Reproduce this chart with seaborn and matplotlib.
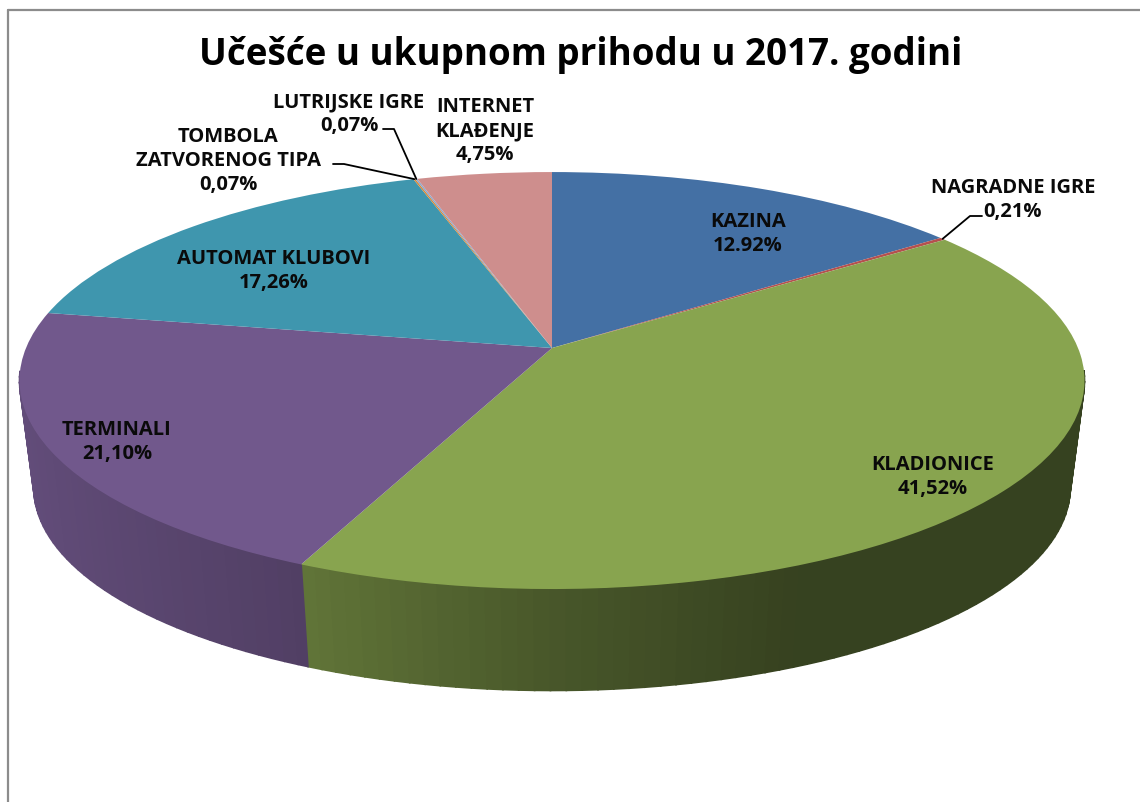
import numpy as np
import matplotlib
matplotlib.use("Agg")
import matplotlib.pyplot as plt
import matplotlib.transforms as mtransforms
import seaborn as sns

# data (the KAZINA slice is drawn bigger than its label says)
slice_values = [14.92, 0.21, 41.52, 21.10, 17.26, 0.07, 0.07, 4.75]
slice_colors = ["#4470A4", "#B5504E", "#88A44F", "#71588C", "#3F96AE", "#D68B3C", "#8FA8CE", "#CE8E8D"]
title = "Učešće u ukupnom prihodu u 2017. godini"
label_texts = [
    "KAZINA\n12.92%",
    "NAGRADNE IGRE\n0,21%",
    "KLADIONICE\n41,52%",
    "TERMINALI\n21,10%",
    "AUTOMAT KLUBOVI\n17,26%",
    "TOMBOLA\nZATVORENOG TIPA\n0,07%",
    "LUTRIJSKE IGRE\n0,07%",
    "INTERNET\nKLAĐENJE\n4,75%",
]

# layout, in pixels of the figure
label_xy = [(748, 234), (1013, 200), (933, 477), (117, 442), (274, 271), (228, 161), (349, 114), (485, 131)]
leader_bends = {1: [(982, 217), (970, 217)], 5: [(333, 165), (344, 165)], 6: [(383, 130), (394, 130)]}


class DiscProjection(mtransforms.Transform):
    """Flat unit disc to picture pixels, with the back of the disc further away."""
    input_dims = 2
    output_dims = 2
    tilt = 0.156

    def __init__(self, cy, scale=1.0):
        super().__init__()
        self.cy = cy
        self.scale = scale

    def transform_non_affine(self, values):
        u, v = values[:, 0], values[:, 1]
        w = 1 + self.tilt * v
        return np.column_stack([552 + 526 * self.scale * u / w, self.cy - 203.4 * self.scale * v / w])


top_disc = DiscProjection(349)
bottom_disc = DiscProjection(457, 0.973)


def wall_shade(u):
    return np.interp(u, [-1, -0.45, 0, 0.4, 1], [0.88, 0.73, 0.53, 0.40, 0.40])


sns.set_theme(style="white")
plt.rcParams["font.family"] = ["Open Sans", "DejaVu Sans"]
palette = sns.color_palette(slice_colors)

fig = plt.figure(figsize=(11.4, 8.03), dpi=100)
ax = fig.add_axes([0, 0, 1, 1])

wedges, _ = ax.pie(slice_values, colors=palette, startangle=90, counterclock=False, radius=1)
ax.set_aspect("auto")
ax.set_xlim(0, 1140)
ax.set_ylim(803, 0)
ax.axis("off")

# side wall of the pie, thin strips from the top rim to the bottom rim
for wedge, color in zip(wedges, palette):
    theta = np.radians(np.arange(wedge.theta1, wedge.theta2 + 1.5, 1.5))
    theta[-1] = np.radians(wedge.theta2)
    for a, b in zip(theta[:-1], theta[1:]):
        # only the front of the rim shows, the rest is behind the top surface
        if np.sin(a) > -0.12 and np.sin(b) > -0.12:
            continue
        rim = np.array([[np.cos(a), np.sin(a)], [np.cos(b), np.sin(b)]])
        upper = top_disc.transform(rim)
        lower = bottom_disc.transform(rim)
        shade = wall_shade(rim[:, 0].mean())
        strip_color = tuple(c * shade for c in color)
        ax.fill([upper[0, 0], upper[1, 0], lower[1, 0], lower[0, 0]],
                [upper[0, 1], upper[1, 1], lower[1, 1], lower[0, 1]],
                facecolor=strip_color, edgecolor=strip_color, lw=1.2, zorder=1)

# top surface: the pie wedges themselves, pushed through the projection
for wedge in wedges:
    wedge.set_transform(top_disc + ax.transData)
    wedge.set_zorder(2)
    wedge.set_linewidth(0)

# chart frame, only top and left are visible
ax.plot([8, 1140], [11, 11], color="#8c8c8c", lw=1.6, zorder=0)
ax.plot([8, 8], [11, 803], color="#8c8c8c", lw=1.6, zorder=0)

ax.text(580.5, 55, title, ha="center", va="center", fontsize=26.5, fontweight="bold", color="black")

for i, (text, (x, y)) in enumerate(zip(label_texts, label_xy)):
    ax.text(x, y, text, ha="center", va="center", fontsize=14.5, fontweight="bold",
            color="#0a0a0a", linespacing=1.26, zorder=4)

# leader lines end on the rim at the middle of their slice
for i, bends in leader_bends.items():
    mid = np.radians((wedges[i].theta1 + wedges[i].theta2) / 2)
    end = top_disc.transform(np.array([[np.cos(mid), np.sin(mid)]]))[0]
    xs = [p[0] for p in bends] + [end[0]]
    ys = [p[1] for p in bends] + [end[1]]
    ax.plot(xs, ys, color="black", lw=1.3, zorder=3)

fig.savefig("out.png", dpi=100)
